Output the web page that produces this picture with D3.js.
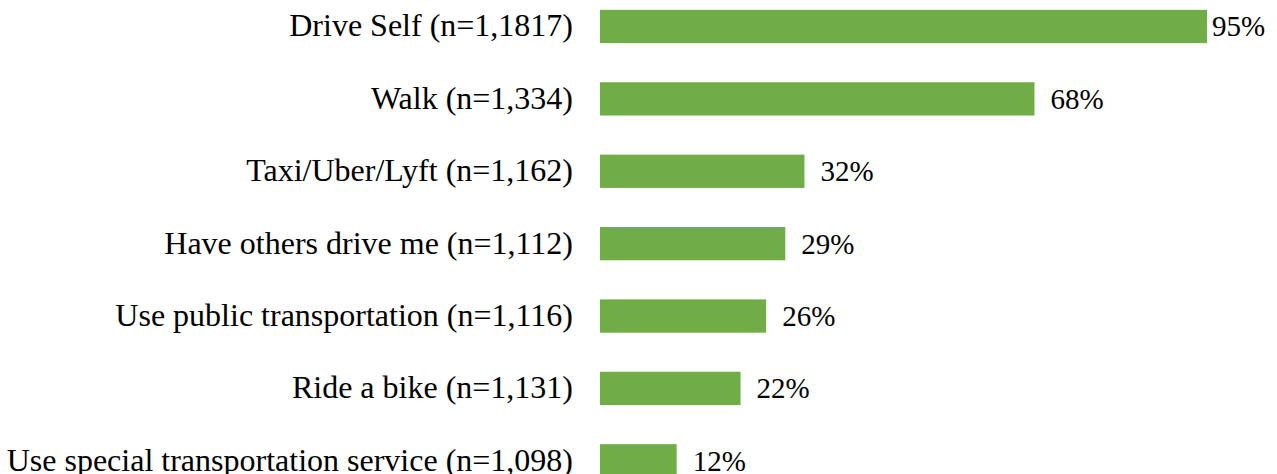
<!DOCTYPE html>
<html>
<head>
<meta charset="utf-8">
<script src="https://cdn.jsdelivr.net/npm/d3@7"></script>
<style>
  html, body { margin: 0; padding: 0; background: #fff; overflow: hidden; }
  text { font-family: "Liberation Serif", "Times New Roman", serif; fill: #000; }
</style>
</head>
<body>
<div id="chart"></div>
<script>
// 类别和数值
const categories = [
  'Drive Self (n=1,1817)',
  'Walk (n=1,334)',
  'Taxi/Uber/Lyft (n=1,162)',
  'Have others drive me (n=1,112)',
  'Use public transportation (n=1,116)',
  'Ride a bike (n=1,131)',
  'Use special transportation service (n=1,098)'
]
const values = [95, 68, 32, 29, 26, 22, 12]

const width = 1277
const height = 474
const barLeft = 600
const labelRight = 573

let svg = d3.select('#chart').append('svg')
  .attr('width', width)
  .attr('height', height)

// x 比例尺
let x = d3.scaleLinear().domain([0, 95]).range([barLeft, 1207])

// y 比例尺 (band)
let y = d3.scaleBand()
  .domain(categories)
  .range([-9.7, 497])
  .paddingInner(0.54)
  .paddingOuter(0.27)

let rows = svg.selectAll('.row')
  .data(categories)
  .enter()
  .append('g')
  .attr('class', 'row')

rows.append('rect')
  .attr('x', x(0))
  .attr('y', d => y(d))
  .attr('width', (d, i) => x(values[i]) - x(0))
  .attr('height', y.bandwidth())
  .attr('fill', '#70ad47')

// 左侧类别标签
rows.append('text')
  .attr('x', labelRight)
  .attr('y', d => y(d) + y.bandwidth() / 2 + 10)
  .attr('text-anchor', 'end')
  .style('font-size', '32px')
  .text(d => d)

// 数值标签
rows.append('text')
  .attr('x', (d, i) => Math.min(x(values[i]) + 16, width - 65))
  .attr('y', d => y(d) + y.bandwidth() / 2 + 10)
  .style('font-size', '29px')
  .text((d, i) => values[i] + '%')
</script>
</body>
</html>
